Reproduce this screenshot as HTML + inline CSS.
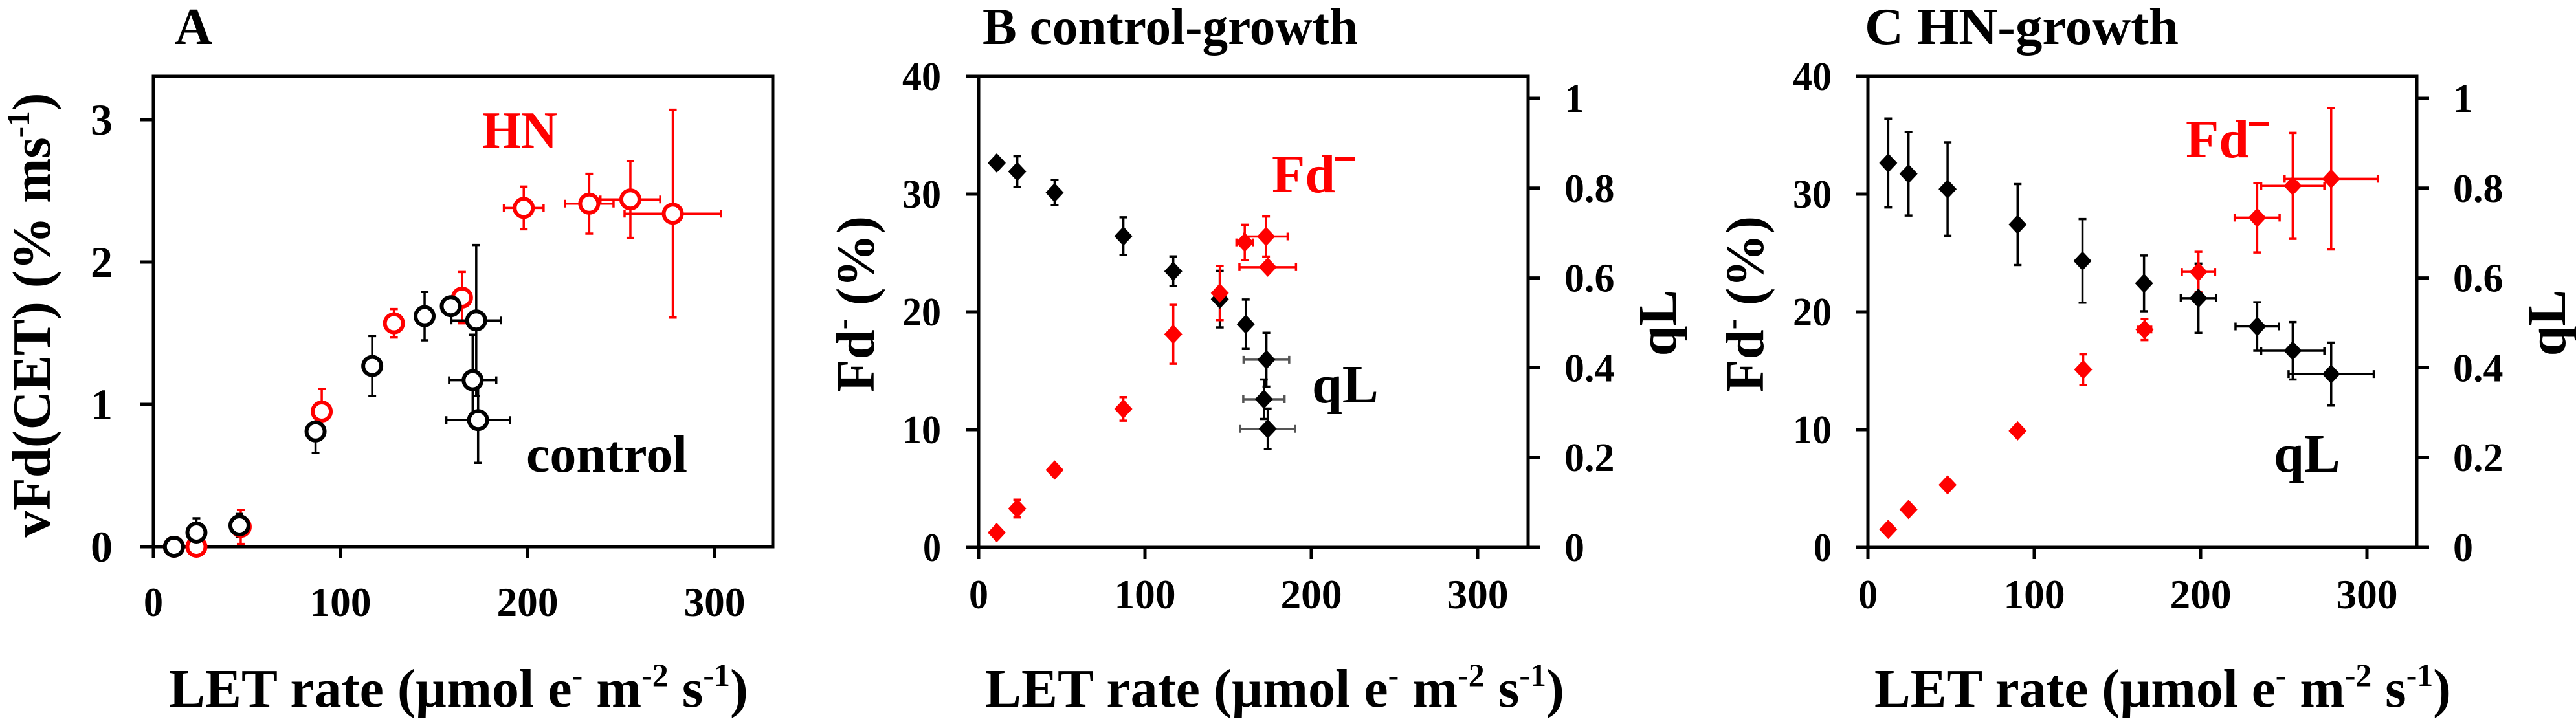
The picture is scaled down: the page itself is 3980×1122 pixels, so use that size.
<!DOCTYPE html>
<html><head><meta charset="utf-8">
<style>
html,body{margin:0;padding:0;background:#fff;}
svg{display:block;font-family:"Liberation Serif",serif;font-weight:bold;}
svg text{font-family:"Liberation Serif",serif;}
</style></head>
<body>
<svg id="fig" width="3980" height="1122" viewBox="0 0 3980 1122" xmlns="http://www.w3.org/2000/svg" font-family="Liberation Serif, serif" font-weight="bold"></svg>
<script>
// ---- Panel A data (vFd(CET), % ms-1) ----
const aCtrlX    = [11, 23, 46, 86.7, 117, 145, 159, 172.6, 170.7, 173.6];
const aCtrlY    = [0, 0.10, 0.15, 0.81, 1.27, 1.62, 1.69, 1.59, 1.17, 0.89];
const aCtrlYErr = [0, 0.10, 0.08, 0.15, 0.21, 0.17, 0.03, 0.53, 0.32, 0.30];
const aCtrlXErr = [0, 0, 0, 0, 0, 0, 0, 13.3, 12.6, 17];
const aHNX      = [11, 23, 46.7, 90, 128.6, 165, 198, 233, 255, 277.7];
const aHNY      = [0, 0, 0.14, 0.95, 1.57, 1.75, 2.38, 2.41, 2.44, 2.34];
const aHNYErr   = [0, 0, 0.12, 0.16, 0.10, 0.18, 0.15, 0.21, 0.27, 0.73];
const aHNXErr   = [0, 0, 0, 0, 4, 0, 10.6, 13, 16, 25.8];
// ---- Panel B data (control-growth) ----
const bQLX    = [10.9, 23.2, 45.7, 87, 117, 145, 160.6, 173, 171.5, 173.8];
const bQL     = [0.856, 0.837, 0.79, 0.693, 0.615, 0.553, 0.497, 0.418, 0.33, 0.264];
const bQLErr  = [0, 0.034, 0.028, 0.042, 0.033, 0.063, 0.055, 0.06, 0.044, 0.045];
const bQLXErr = [0, 0, 0, 0, 0, 0, 0, 13.7, 12.4, 16.5];
const bFdX    = [10.9, 23.2, 45.7, 87, 117, 145, 160, 172.8, 173.8];
const bFd     = [1.26, 3.3, 6.57, 11.76, 18.1, 21.6, 25.9, 26.4, 23.8];
const bFdErr  = [0, 0.75, 0.4, 1.0, 2.5, 2.3, 1.5, 1.7, 0];
const bFdXErr = [0, 0, 0, 0, 0, 0, 5, 13, 17];
// ---- Panel C data (HN-growth) ----
const cQLX    = [12.2, 24.4, 47.9, 90, 129, 166, 198.7, 234, 255.4, 278.5];
const cQL     = [0.856, 0.832, 0.798, 0.719, 0.638, 0.588, 0.555, 0.492, 0.438, 0.386];
const cQLErr  = [0.099, 0.093, 0.104, 0.09, 0.093, 0.062, 0.077, 0.054, 0.064, 0.07];
const cQLXErr = [0, 0, 0, 0, 0, 0, 10.6, 13, 19, 25.6];
const cFdX    = [12.2, 24.4, 47.9, 90, 129.4, 166.3, 198.7, 234, 255.4, 278.5];
const cFd     = [1.53, 3.22, 5.31, 9.9, 15.1, 18.5, 23.4, 28.0, 30.7, 31.3];
const cFdErr  = [0, 0, 0, 0, 1.3, 0.9, 1.7, 2.95, 4.5, 6];
const cFdXErr = [0, 0, 0, 0, 3, 4, 10, 13.5, 19, 28];
// ---- tick labels ----
const xTicks = [0, 100, 200, 300];
const aYTicks = [0, 1, 2, 3];
const fdTicks = [0, 10, 20, 30, 40];
const qlTicks = [0, 0.2, 0.4, 0.6, 0.8, 1];

const NS = "http://www.w3.org/2000/svg";
const svg = document.getElementById('fig');
function el(tag, attrs, parent, text){
  const e = document.createElementNS(NS, tag);
  for (const k in attrs) e.setAttribute(k, attrs[k]);
  if (text !== undefined) e.textContent = text;
  (parent || svg).appendChild(e);
  return e;
}
const RED = "#ff0000";

function linScale(d0, d1, r0, r1){ return v => r0 + (v - d0) * (r1 - r0) / (d1 - d0); }

function frame(g, L, R, T, B){
  const p = el('path', {d:`M${L},${T}H${R}V${B}H${L}Z`, fill:'none', stroke:'#000', 'stroke-width':5}, g);
  
  
}
function errBars(g, xs, ys, xe, ye, sx, sy, color, xColor){
  for (let i = 0; i < xs.length; i++){
    const cx = sx(xs[i]), cy = sy(ys[i]);
    if (ye[i] > 0){
      const y1 = sy(ys[i] + ye[i]), y2 = sy(ys[i] - ye[i]);
      const e = el('path', {d:`M${cx},${y1}V${y2}M${cx-6},${y1}H${cx+6}M${cx-6},${y2}H${cx+6}`, stroke:color, 'stroke-width':3.5, fill:'none'}, g);
      
      
    }
    if (xe[i] > 0){
      const x1 = sx(xs[i] - xe[i]), x2 = sx(xs[i] + xe[i]);
      const e = el('path', {d:`M${x1},${cy}H${x2}M${x1},${cy-6}V${cy+6}M${x2},${cy-6}V${cy+6}`, stroke:xColor || color, 'stroke-width':3.5, fill:'none'}, g);
      
      
    }
  }
}
function circles(g, xs, ys, sx, sy, color){
  for (let i = 0; i < xs.length; i++){
    const c = el('circle', {cx:sx(xs[i]), cy:sy(ys[i]), r:14, fill:'#fff', stroke:color, 'stroke-width':6}, g);
    
    
  }
}
function diamonds(g, xs, ys, sx, sy, color){
  for (let i = 0; i < xs.length; i++){
    const cx = sx(xs[i]), cy = sy(ys[i]);
    const d = el('path', {d:`M${cx},${cy-15}L${cx+14},${cy}L${cx},${cy+15}L${cx-14},${cy}Z`, fill:color}, g);
    
    
  }
}
function xAxis(g, sx, B, labelY){
  xTicks.forEach(t => {
    const x = sx(t);
    el('line', {x1:x, y1:B, x2:x, y2:B+18, stroke:'#000', 'stroke-width':5}, g);
    const tx = el('text', {x:x, y:labelY, 'font-size':64, 'text-anchor':'middle', 'textLength':t===0?30:95, 'lengthAdjust':'spacingAndGlyphs'}, g, String(t));
    
    
  });
}
function xTitle(g, x0, x1, y){
  const t = el('text', {x:x0, y:y, 'font-size':84, textLength:x1-x0, lengthAdjust:'spacingAndGlyphs'}, g);
  
  
  el('tspan', {}, t, 'LET rate (µmol e');
  el('tspan', {'font-size':50, dy:-32}, t, '-');
  el('tspan', {dy:32}, t, ' m');
  el('tspan', {'font-size':50, dy:-32}, t, '-2');
  el('tspan', {dy:32}, t, ' s');
  el('tspan', {'font-size':50, dy:-32}, t, '-1');
  el('tspan', {dy:32}, t, ')');
}

// ================= Panel A =================
(function(){
  const g = el('g', {});  
  const L = 237, R = 1194, T = 118, B = 845;
  const sx = linScale(0, 100, 237, 526);
  const sy = linScale(0, 1, 845, 625);
  frame(g, L, R, T, B);
  xAxis(g, sx, B, 952);
  aYTicks.forEach(t => {
    const y = sy(t);
    el('line', {x1:L-20, y1:y, x2:L, y2:y, stroke:'#000', 'stroke-width':5}, g);
    const tx = el('text', {x:174, y:y+23, 'font-size':68, 'text-anchor':'end'}, g, String(t));
    
    
  });
  const title = el('text', {x:270, y:68, 'font-size':80}, g, 'A');
   
  const yt = el('text', {transform:'translate(77,487) rotate(-90)', 'text-anchor':'middle', 'font-size':84, textLength:687, lengthAdjust:'spacingAndGlyphs'}, g);
   
  el('tspan', {}, yt, 'vFd(CET) (% ms');
  el('tspan', {'font-size':50, dy:-32}, yt, '-1');
  el('tspan', {dy:32}, yt, ')');
  xTitle(g, 261, 1156, 1092);
  errBars(g, aHNX, aHNY, aHNXErr, aHNYErr, sx, sy, RED);
  errBars(g, aCtrlX, aCtrlY, aCtrlXErr, aCtrlYErr, sx, sy, '#000');
  circles(g, aHNX, aHNY, sx, sy, RED);
  circles(g, aCtrlX, aCtrlY, sx, sy, '#000');
  const hn = el('text', {x:745, y:228, 'font-size':80, fill:RED, textLength:116, lengthAdjust:'spacingAndGlyphs'}, g, 'HN');
   
  const ct = el('text', {x:813, y:729, 'font-size':80, textLength:249, lengthAdjust:'spacingAndGlyphs'}, g, 'control');
   
})();

// ================= Panels B & C =================
function dualPanel(cfg){
  const g = el('g', {});  
  const L = cfg.L, R = cfg.R, T = 118, B = 846;
  const sx = linScale(0, 100, L, L + 257);
  const sy = linScale(0, 40, B, T);
  const sq = linScale(0, 1, B, 152);
  frame(g, L, R, T, B);
  xAxis(g, sx, B, 940);
  fdTicks.forEach(t => {
    const y = sy(t);
    el('line', {x1:L-19, y1:y, x2:L, y2:y, stroke:'#000', 'stroke-width':5}, g);
    const tx = el('text', {x:cfg.lEnd, y:y+21, 'font-size':62, 'text-anchor':'end', textLength:t===0?28:60, lengthAdjust:'spacingAndGlyphs'}, g, String(t));
     
  });
  qlTicks.forEach(t => {
    const y = sq(t);
    el('line', {x1:R, y1:y, x2:R+19, y2:y, stroke:'#000', 'stroke-width':5}, g);
    const tx = el('text', {x:R+56, y:y+21, 'font-size':62}, g, String(t));
     
  });
  const ttl = el('text', {x:cfg.tx, y:68, 'font-size':80, textLength:cfg.tLen, lengthAdjust:'spacingAndGlyphs'}, g, cfg.title);
   
  const yt = el('text', {transform:`translate(${cfg.yTitleX},470) rotate(-90)`, 'text-anchor':'middle', 'font-size':84, textLength:272, lengthAdjust:'spacingAndGlyphs'}, g);
   
  el('tspan', {}, yt, 'Fd');
  el('tspan', {'font-size':50, dy:-32}, yt, '-');
  el('tspan', {dy:32}, yt, ' (%)');
  const rt = el('text', {transform:`translate(${cfg.rTitleX},499) rotate(-90)`, 'text-anchor':'middle', 'font-size':84}, g, 'qL');
   
  xTitle(g, cfg.xt0, cfg.xt1, 1092);
  errBars(g, cfg.qx, cfg.q, cfg.qxe, cfg.qe, sx, sq, '#000', cfg.qxColor);
  errBars(g, cfg.fx, cfg.f, cfg.fxe, cfg.fe, sx, sy, RED);
  diamonds(g, cfg.qx, cfg.q, sx, sq, '#000');
  diamonds(g, cfg.fx, cfg.f, sx, sy, RED);
  const fl = el('text', {x:cfg.fdX, y:cfg.fdY, 'font-size':84, fill:RED}, g, 'Fd');
   
  const bar = el('rect', {x:cfg.fdX+98, y:cfg.fdY-55, width:30, height:7, fill:RED}, g);
   
  const ql = el('text', {x:cfg.qlX, y:cfg.qlY, 'font-size':84}, g, 'qL');
   
}
dualPanel({name:'panel-b', L:1512, R:2361, lEnd:1454, tx:1518, tLen:580, title:'B  control-growth',
  yTitleX:1350, rTitleX:2589, xt0:1522, xt1:2417,
  qx:bQLX, q:bQL, qe:bQLErr, qxe:bQLXErr, qxColor:'#555',
  fx:bFdX, f:bFd, fe:bFdErr, fxe:bFdXErr,
  fdX:1965, fdY:297, qlX:2027, qlY:622});
dualPanel({name:'panel-c', L:2886, R:3734, lEnd:2830, tx:2881, tLen:485, title:'C   HN-growth',
  yTitleX:2724, rTitleX:3963, xt0:2896, xt1:3787,
  qx:cQLX, q:cQL, qe:cQLErr, qxe:cQLXErr, qxColor:'#000',
  fx:cFdX, f:cFd, fe:cFdErr, fxe:cFdXErr,
  fdX:3377, fdY:243, qlX:3513, qlY:729});
</script>
</body></html>
